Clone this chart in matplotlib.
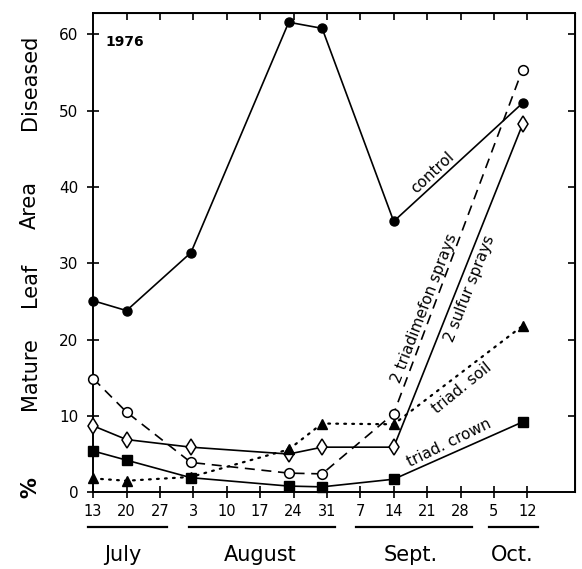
import matplotlib.pyplot as plt
import matplotlib.transforms as mtransforms

# days counted from 13 July 1976
days = [0, 7, 20.5, 41, 48, 63, 90]

control = [25.1, 23.8, 31.4, 61.6, 60.8, 35.5, 51.0]
triadimefon_sprays = [14.9, 10.5, 3.9, 2.5, 2.4, 10.3, 55.4]
sulfur_sprays = [8.7, 6.9, 5.9, 5.0, 5.9, 5.9, 48.2]
triad_soil = [1.8, 1.5, 2.0, 5.6, 9.0, 8.9, 21.8]
triad_crown = [5.4, 4.2, 1.9, 0.8, 0.7, 1.7, 9.2]

tick_days = [0, 7, 14, 21, 28, 35, 42, 49, 56, 63, 70, 77, 84, 91]
tick_labels = ['13', '20', '27', '3', '10', '17', '24', '31',
               '7', '14', '21', '28', '5', '12']
y_ticks = [0, 10, 20, 30, 40, 50, 60]

months = ['July', 'August', 'Sept.', 'Oct.']
month_start = [-1, 20, 55, 83]
month_end = [15.5, 50.7, 79.5, 93.3]
month_mid = [6.3, 35, 66.5, 87.8]

fig = plt.figure(figsize=(5.82, 5.69), dpi=100)
ax = fig.add_axes([0.160, 0.135, 0.828, 0.842])

lw = 1.2
ax.plot(days, control, color='black', lw=lw, marker='o', ms=6.5,
        mfc='black', clip_on=False, zorder=3)
ax.plot(days, triadimefon_sprays, color='black', lw=lw, dashes=(6, 4),
        marker='o', ms=7, mfc='white', mew=1.1, clip_on=False, zorder=3)
ax.plot(days, sulfur_sprays, color='black', lw=lw, marker='d', ms=8,
        mfc='white', mew=1.1, clip_on=False, zorder=3)
ax.plot(days, triad_soil, color='black', lw=1.6, dashes=(0.8, 2.8),
        dash_capstyle='round', marker='^', ms=6.5, mfc='black',
        clip_on=False, zorder=3)
ax.plot(days, triad_crown, color='black', lw=lw, marker='s', ms=6.5,
        mfc='black', clip_on=False, zorder=3)

ax.set_xlim(0, 101)
ax.set_ylim(0, 62.8)

ax.set_xticks(tick_days)
ax.set_xticklabels(tick_labels, fontsize=10.5)
ax.set_yticks(y_ticks)
ax.set_yticklabels([str(v) for v in y_ticks], fontsize=11)
ax.tick_params(axis='both', direction='inout', length=9, width=1.2,
               colors='black')
ax.tick_params(axis='x', pad=4)
ax.tick_params(axis='y', pad=6)
for s in ax.spines.values():
    s.set_linewidth(1.4)

# inward ticks on top and right
top = ax.secondary_xaxis('top')
top.set_xticks(tick_days[1:])
top.tick_params(direction='in', length=5, width=1.2, labeltop=False)
right = ax.secondary_yaxis('right')
right.set_yticks(y_ticks[1:])
right.tick_params(direction='in', length=5, width=1.2, labelright=False)

ax.text(2.6, 59, '1976', fontsize=10, fontweight='bold', va='center')

# curve labels
ax.text(72.1, 41.2, 'control', rotation=43, rotation_mode='anchor',
        ha='center', va='bottom', fontsize=11)
ax.text(70.9, 23.8, '2 triadimefon sprays', rotation=69, rotation_mode='anchor',
        ha='center', va='bottom', fontsize=11)
ax.text(77.4, 27.0, '2 sulfur sprays', rotation=68.5, rotation_mode='anchor',
        ha='center', va='top', fontsize=11)
ax.text(76.2, 14.4, 'triad. soil', rotation=39, rotation_mode='anchor',
        ha='center', va='top', fontsize=11)
ax.text(75.3, 5.6, 'triad. crown', rotation=26, rotation_mode='anchor',
        ha='center', va='bottom', fontsize=11)

# month labels under the axis
trans = mtransforms.blended_transform_factory(ax.transData, fig.transFigure)
for name, a, b, m in zip(months, month_start, month_end, month_mid):
    ax.plot([a, b], [0.074, 0.074], color='black', lw=1.6,
            transform=trans, clip_on=False)
    ax.text(m, 0.024, name, transform=trans, ha='center', va='center',
            fontsize=15)

# y axis title, word by word
ylab_words = ['%', 'Mature', 'Leaf', 'Area', 'Diseased']
ylab_y = [488, 374, 285, 205, 82]
for w, y in zip(ylab_words, ylab_y):
    fig.text(30 / 582, 1 - y / 569, w, rotation=90, ha='center',
             va='center', fontsize=15,
             fontweight='bold' if w == '%' else 'normal')

fig.savefig('out.png', dpi=100)
